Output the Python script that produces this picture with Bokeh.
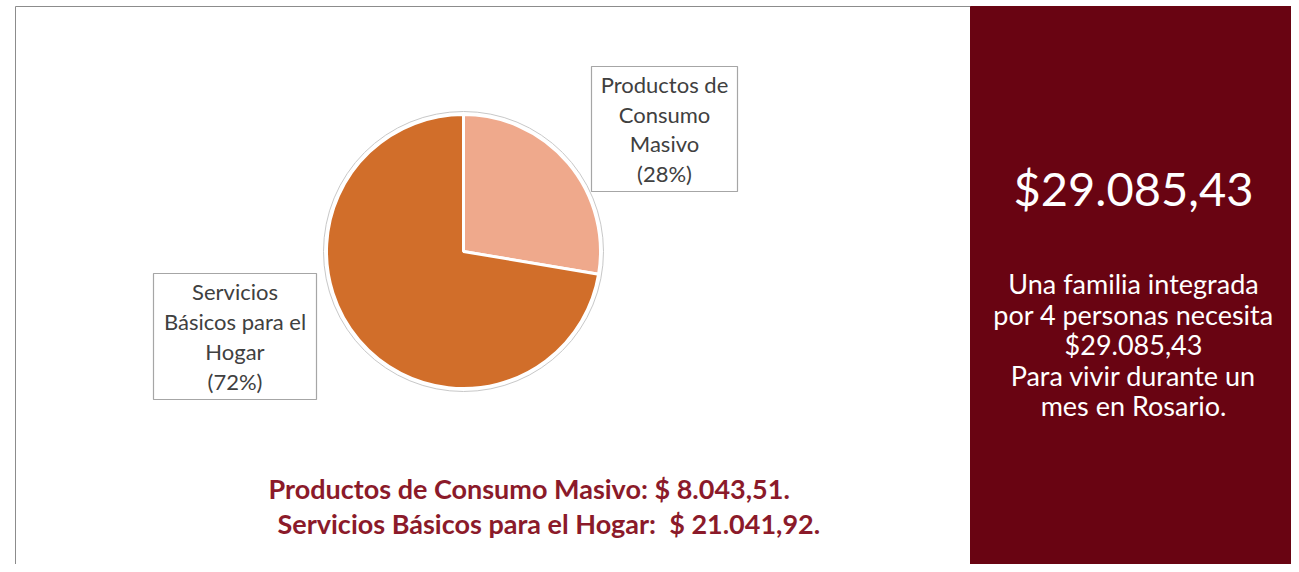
from bokeh.plotting import figure
from bokeh.models import Range1d, ColumnDataSource
from bokeh.core.properties import value
from bokeh.embed import file_html
from bokeh.resources import INLINE
import math

# ---- data ----
categories = ["Productos de Consumo Masivo", "Servicios Básicos para el Hogar"]
amounts = [8043.51, 21041.92]
pct_labels = ["(28%)", "(72%)"]
slice_colors = ["#EFA98C", "#D16E2A"]
label_lines = [["Productos de", "Consumo", "Masivo", "(28%)"],
               ["Servicios", "Básicos para el", "Hogar", "(72%)"]]
bottom_lines = ["Productos de Consumo Masivo: $ 8.043,51.",
                "Servicios Básicos para el Hogar:\u00a0\u00a0$ 21.041,92."]
total_text = "$29.085,43"
panel_lines = ["Una familia integrada", "por 4 personas necesita", "$29.085,43",
               "Para vivir durante un", "mes en Rosario."]

W, H = 1291, 564
p = figure(width=W, height=H, output_backend="svg", toolbar_location=None,
           x_range=Range1d(0, W), y_range=Range1d(0, H),
           min_border=0, outline_line_color=None)
p.axis.visible = False
p.grid.visible = False
p.background_fill_color = "white"
p.border_fill_color = "white"

def Y(sy):  # screen y -> data y
    return H - sy

FONT = value("Lato")

# left panel frame
p.quad(left=[15], right=[970], top=[Y(6)], bottom=[Y(H + 10)],
       fill_color="white", line_color="#8C8C8C", line_width=1)

# right panel
p.quad(left=[970], right=[1295], top=[Y(6)], bottom=[Y(H + 10)],
       fill_color="#690412", line_color="#690412")

# pie
cx, cy, r = 463, Y(251), 137
p.circle(x=[cx], y=[cy], radius=r + 3, fill_color="white", line_color="#C8C8C8", line_width=1)
total = sum(amounts)
starts, ends = [], []
cum = 0.0
for a in amounts:
    frac = a / total
    end = math.pi / 2 - cum * 2 * math.pi
    start = math.pi / 2 - (cum + frac) * 2 * math.pi
    starts.append(start)
    ends.append(end)
    cum += frac
src = ColumnDataSource(dict(start=starts, end=ends, color=slice_colors))
p.wedge(x=cx, y=cy, radius=r, start_angle="start", end_angle="end",
        fill_color="color", line_color="white", line_width=3, source=src)

# label boxes
boxes = [(591, 737, 66, 191), (153, 316, 273, 399)]
for (l, rr, t, b), lines in zip(boxes, label_lines):
    p.quad(left=[l], right=[rr], top=[Y(t)], bottom=[Y(b)],
           fill_color="white", line_color="#A6A6A6", line_width=1.2)
    xc = (l + rr) / 2
    n = len(lines)
    step = 29.7
    y0 = (t + b) / 2 - step * (n - 1) / 2
    p.text(x=[xc] * n, y=[Y(y0 + i * step) for i in range(n)], text=lines,
           text_align="center", text_baseline="middle", text_font=FONT,
           text_font_size="22px", text_color="#404040")

# bottom summary
p.text(x=[268, 277], y=[Y(488), Y(523)], text=bottom_lines,
       text_align="left", text_baseline="middle", text_font=FONT,
       text_font_size="27px", text_font_style="bold", text_color="#8B1A2A")

# right panel texts
pcx = 1133
p.text(x=[pcx], y=[Y(187)], text=[total_text], text_align="center",
       text_baseline="middle", text_font=FONT, text_font_size="47px",
       text_color="white")
n = len(panel_lines)
p.text(x=[pcx] * n, y=[Y(283 + i * 30.5) for i in range(n)], text=panel_lines,
       text_align="center", text_baseline="middle", text_font=FONT,
       text_font_size="27px", text_color="white")

open("out.html", "w").write(file_html(p, INLINE))
